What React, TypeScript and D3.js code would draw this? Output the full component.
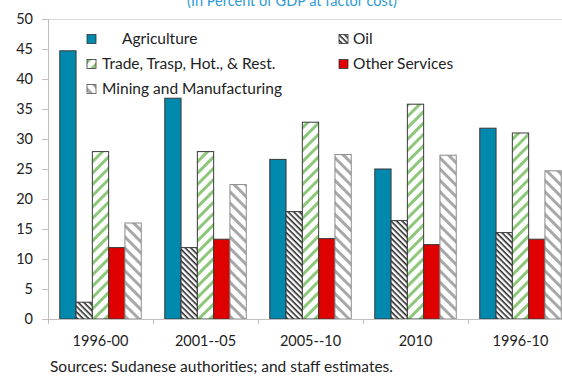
import React from "react";
import * as d3 from "d3";

const categories = ["1996-00", "2001--05", "2005--10", "2010", "1996-10"];
const seriesNames = ["Agriculture", "Oil", "Trade, Trasp, Hot., & Rest.", "Other Services", "Mining and Manufacturing"];
const agriculture = [44.7, 36.8, 26.6, 25.0, 31.8];
const oil = [2.8, 11.9, 17.9, 16.4, 14.4];
const trade = [27.9, 27.9, 32.8, 35.8, 31.0];
const otherServices = [11.9, 13.3, 13.4, 12.4, 13.3];
const mining = [16.0, 22.4, 27.4, 27.3, 24.7];
const yTicks = [0, 5, 10, 15, 20, 25, 30, 35, 40, 45, 50];
const title = "(In Percent of GDP at factor cost)";
const source = "Sources: Sudanese authorities; and staff estimates.";

const seriesValues = [agriculture, oil, trade, otherServices, mining];
const fills = ["#0088AD", "url(#pOil)", "url(#pTrade)", "#E00000", "url(#pMining)"];
const strokes = ["#3a3a3a", "#3a3a3a", "#3a3a3a", "#3a3a3a", "#8a8a8a"];

const FONT = "Lato, 'Open Sans', sans-serif";

export default function App() {
  const W = 562, H = 379;
  const x0 = 48, x1 = 573, yTop = 19, yBot = 319;
  const x = d3.scaleBand<string>().domain(categories).range([x0, x1]).paddingInner(0.224).paddingOuter(0.112);
  const xi = d3.scaleBand<number>().domain(d3.range(seriesNames.length)).range([0, x.bandwidth()]).padding(0);
  const y = d3.scaleLinear().domain([0, 50]).range([yBot, yTop]);

  const legend = [
    { s: 0, mx: 87, tx: 122, cy: 39 },
    { s: 1, mx: 339, tx: 353, cy: 39 },
    { s: 2, mx: 87, tx: 102, cy: 64 },
    { s: 3, mx: 339, tx: 353, cy: 64 },
    { s: 4, mx: 87, tx: 102, cy: 89 },
  ];

  return (
    <svg width={W} height={H} style={{ position: "absolute", left: 0, top: 0, background: "#fff" }} fontFamily={FONT}>
      <defs>
        <pattern id="pOil" patternUnits="userSpaceOnUse" width={4} height={4} patternTransform="rotate(45)">
          <rect width={4} height={4} fill="#fff" />
          <rect width={4} height={1.6} fill="#2a2a2a" />
        </pattern>
        <pattern id="pTrade" patternUnits="userSpaceOnUse" width={8} height={8} patternTransform="rotate(-45)">
          <rect width={8} height={8} fill="#fff" />
          <rect width={8} height={3} fill="#8CC77A" />
        </pattern>
        <pattern id="pMining" patternUnits="userSpaceOnUse" width={8} height={8} patternTransform="rotate(45)">
          <rect width={8} height={8} fill="#fff" />
          <rect width={8} height={3} fill="#A8A8A8" />
        </pattern>
      </defs>

      <text x={292} y={6} textAnchor="middle" fontSize={14.5} fill="#2E9BD6">{title}</text>

      {/* top border line at 50 */}
      <line x1={42} x2={W} y1={y(50) + 0.5} y2={y(50) + 0.5} stroke="#d9d9d9" strokeWidth={1} />

      {/* y axis */}
      <line x1={x0 + 0.5} x2={x0 + 0.5} y1={yTop} y2={yBot} stroke="#bfbfbf" />
      {yTicks.map((t) => (
        <g key={t}>
          <line x1={42} x2={x0} y1={Math.round(y(t)) + 0.5} y2={Math.round(y(t)) + 0.5} stroke="#bfbfbf" />
          <text x={33} y={y(t)} dy="0.35em" textAnchor="end" fontSize={14.5} fill="#222">{t}</text>
        </g>
      ))}

      {/* bars */}
      {categories.map((c, ci) => (
        <g key={c} transform={`translate(${x(c)},0)`}>
          {seriesValues.map((vals, si) => (
            <rect
              key={si}
              x={xi(si)}
              y={y(vals[ci])}
              width={xi.bandwidth()}
              height={yBot - y(vals[ci])}
              fill={fills[si]}
              stroke={strokes[si]}
              strokeWidth={1}
            />
          ))}
        </g>
      ))}

      {/* x axis */}
      <line x1={42} x2={W} y1={yBot + 0.5} y2={yBot + 0.5} stroke="#bfbfbf" />
      {categories.map((c) => (
        <g key={c}>
          <line x1={Math.round(x(c)! - x.step() * 0.112) + 0.5} x2={Math.round(x(c)! - x.step() * 0.112) + 0.5} y1={yBot} y2={yBot + 5} stroke="#bfbfbf" />
          <text x={x(c)! + x.bandwidth() / 2} y={341} dy="0.35em" textAnchor="middle" fontSize={14.5} fill="#222">{c}</text>
        </g>
      ))}

      {/* legend */}
      {legend.map((l) => (
        <g key={l.s}>
          <rect x={l.mx} y={l.cy - 4.5} width={9} height={9} fill={fills[l.s]} stroke={strokes[l.s] === "#8a8a8a" ? "#555" : "#333"} strokeWidth={0.8} />
          <text x={l.tx} y={l.cy} dy="0.35em" fontSize={15.5} fill="#222">{seriesNames[l.s]}</text>
        </g>
      ))}

      <text x={50} y={372} fontSize={15.5} fill="#222">{source}</text>
    </svg>
  );
}
